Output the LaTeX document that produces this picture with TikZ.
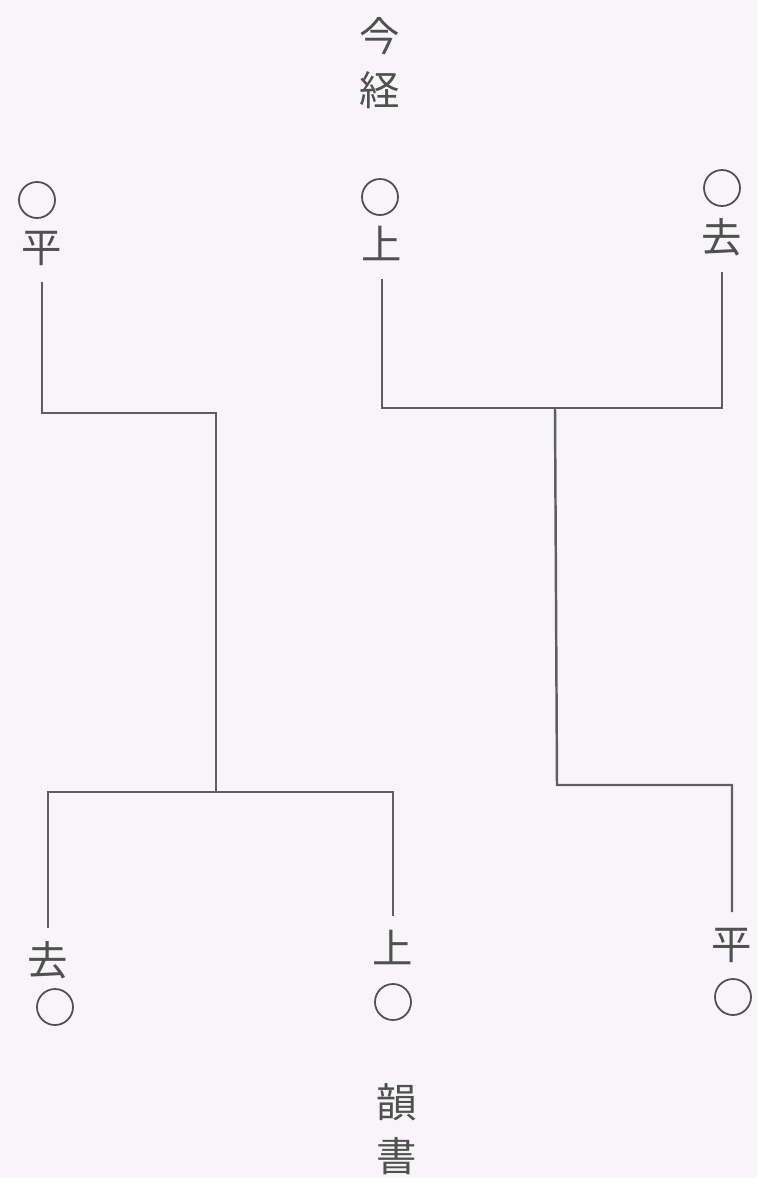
\documentclass[tikz,border=0pt]{standalone}
\usepackage{fontspec}
\usepackage{xcolor}
\usepackage{tikz}
\usetikzlibrary{positioning,calc}
\newfontfamily\jpfont{Noto Sans CJK JP}
\definecolor{paperbg} {RGB}{247,245,248}
\definecolor{inkgray} {RGB}{80,80,80}
\definecolor{linegray}{RGB}{95,95,95}
\tikzset{
  tonelbl/.style ={font=\jpfont\fontsize{23}{23}\selectfont, text=inkgray,
                   inner sep=0pt, text height=21pt, text depth=1pt,
                   outer sep=10pt},
  lowlbl/.style  ={tonelbl, outer sep=6pt},
  tonemark/.style={draw=inkgray, circle, minimum size=0.72cm, inner sep=0pt,
                   line width=1pt},
  sidelbl/.style ={font=\jpfont\fontsize{23}{31}\selectfont, text=inkgray,
                   align=center, inner sep=0pt},
  link/.style    ={draw=linegray, line width=1.4pt, line join=miter},
}
\begin{document}
\begin{tikzpicture}[x=0.02cm, y=-0.02cm]
  \fill[paperbg] (0,0) rectangle (757,1178);
  \useasboundingbox (0,0) rectangle (757,1178);

  % upper row: modern reading
  \node[sidelbl] (jinkei) at (380,63) {今\\経};
  \node[tonemark] (mA) at (37,200) {};
  \node[tonelbl]  (tA) at (42,245) {平};
  \node[tonemark] (mB) at (380,197) {};
  \node[tonelbl]  (tB) at (382,242) {上};
  \node[tonemark] (mC) at (722,188) {};
  \node[tonelbl]  (tC) at (722,235) {去};

  % lower row: rhyme books
  \node[lowlbl]   (tD) at (48,958) {去};
  \node[tonemark] (mD) at (55,1007) {};
  \node[lowlbl]   (tE) at (393,946) {上};
  \node[tonemark] (mE) at (393,1002) {};
  \node[lowlbl]   (tF) at (732,942) {平};
  \node[tonemark] (mF) at (733,997) {};
  \node[sidelbl] (insho) at (397,1129) {韻\\書};

  \coordinate (ltop) at (216,413);
  \coordinate (lbot) at (216,792);
  \coordinate (rtop) at (555,408);
  \coordinate (rbot) at (557,785);

  \draw[link] (tA.south) |- (ltop) -- (lbot);
  \draw[link] (tD.north) |- (lbot) -| (tE.north);
  \draw[link] (tB.south) |- (rtop) -| (tC.south);
  \draw[link] (rtop) -- (rbot) -| (tF.north);
\end{tikzpicture}
\end{document}
